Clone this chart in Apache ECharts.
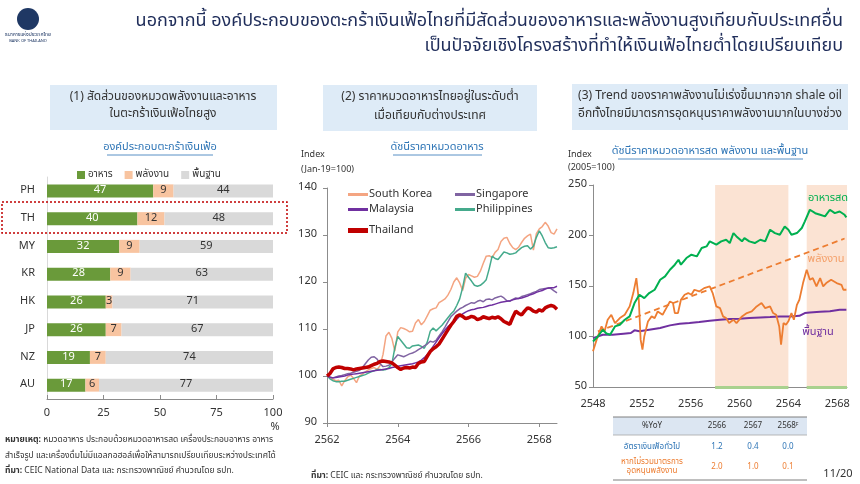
<!DOCTYPE html>
<html><head><meta charset="utf-8">
<script src="https://cdn.jsdelivr.net/npm/echarts@6/dist/echarts.min.js"></script>
<style>html,body{margin:0;padding:0;background:#fff;}#c{width:860px;height:484px;}</style>
</head><body><div id="c"></div>
<script>
const FONT = "'Noto Sans Thai','Noto Sans','DejaVu Sans',sans-serif";

// ---------- Chart 1: basket composition ----------
const countries = ['PH','TH','MY','KR','HK','JP','NZ','AU'];
const foodShare = [47,40,32,28,26,26,19,17];
const energyShare = [9,12,9,9,3,7,7,6];
const coreShare = [44,48,59,63,71,67,74,77];
const shareTicks = [0,25,50,75,100];

// ---------- Chart 2: food price index (Jan-19=100), monthly from Jan 2562 ----------
const startYear2 = 2562;
const yearTicks2 = [2562,2564,2566,2568];
const southKorea = [100.0,99.6,99.3,99.0,99.1,97.9,99.0,99.8,100.2,99.5,98.6,100.0,100.4,100.9,101.3,101.6,101.8,101.4,102.2,104.6,108.5,109.3,108.0,105.3,109.4,110.3,110.1,109.8,109.4,109.5,111.3,112.0,110.9,111.6,112.8,114.0,114.3,114.5,115.6,116.0,116.4,117.2,118.4,120.0,120.9,119.8,118.2,120.8,121.6,121.3,121.0,121.2,122.3,124.0,125.5,125.6,125.2,126.3,126.9,128.6,129.3,129.5,128.2,127.3,126.9,127.4,128.4,129.3,129.8,130.2,126.8,130.3,131.3,131.8,132.7,131.9,130.5,130.2,131.3];
const philippines = [100.0,99.4,99.0,98.8,98.8,98.9,98.9,99.1,99.3,99.5,99.7,99.9,100.1,100.3,100.6,100.9,101.1,101.4,101.4,101.3,101.4,101.8,102.6,106.0,108.4,107.6,106.8,106.0,105.9,106.4,106.5,106.6,106.3,105.9,107.2,109.5,110.2,109.6,110.2,110.8,111.6,112.4,113.2,113.8,115.0,116.4,118.8,121.9,121.0,120.2,119.3,119.1,119.3,119.8,120.5,122.8,125.5,125.0,124.8,125.6,126.4,126.2,125.9,126.0,126.2,126.8,127.3,127.6,127.7,127.0,127.6,129.5,130.9,129.8,128.4,127.3,127.2,127.3,127.5];
const singapore = [100.0,99.7,99.6,99.8,100.0,100.1,100.3,100.5,100.6,100.8,101.0,101.2,101.8,102.6,103.4,104.0,104.1,103.6,102.6,102.0,102.1,102.3,103.0,103.8,104.5,104.3,104.1,104.4,104.7,104.9,105.2,105.6,106.0,106.4,106.8,107.4,107.2,107.6,108.5,109.4,110.4,111.5,112.6,113.2,113.8,114.3,114.6,115.0,115.3,115.6,115.5,115.9,116.1,115.8,116.3,116.4,116.2,116.6,116.8,117.0,116.6,116.0,115.9,116.3,116.6,116.5,116.9,117.1,117.3,117.5,117.8,118.0,118.4,118.5,118.6,118.7,118.6,118.1,117.7];
const malaysia = [100.0,99.8,99.6,99.7,99.8,99.9,100.0,100.2,100.3,100.4,100.5,100.6,100.7,100.8,100.9,101.0,101.1,101.2,101.3,101.4,101.5,101.6,101.8,101.9,102.1,102.2,102.3,102.4,102.5,102.6,102.8,103.0,103.4,103.9,104.6,105.4,106.3,107.2,108.1,109.0,109.8,110.5,111.0,111.4,112.1,112.7,113.2,113.6,113.9,114.1,114.2,114.4,114.5,114.6,114.8,115.0,115.1,115.3,115.5,115.7,115.8,115.9,116.0,116.2,116.4,116.5,116.6,116.8,117.0,117.3,117.5,117.8,118.0,118.2,118.5,118.7,118.8,118.8,119.1];
const thailand = [100.0,100.5,101.5,101.8,101.9,101.8,101.6,101.6,101.5,101.3,101.5,101.6,101.7,101.8,101.9,102.2,102.5,102.7,103.1,103.2,103.1,103.0,102.8,102.3,101.8,101.4,101.7,101.8,101.7,101.9,101.8,102.7,103.0,103.1,104.2,105.2,105.8,106.2,106.8,107.8,108.8,109.8,110.8,111.6,112.7,113.0,112.7,112.2,112.4,112.7,112.5,112.0,112.2,112.6,112.4,112.2,112.5,112.3,112.6,112.2,111.6,111.3,111.0,112.5,113.8,113.3,113.0,113.8,114.5,114.3,113.8,113.6,114.1,113.8,114.5,114.8,115.0,114.8,114.2];

// ---------- Chart 3: fresh food, energy, core (2005=100), [year, index] ----------
const yearTicks3 = [2548,2552,2556,2560,2564,2568];
const freshFood = [[2548.0,95],[2548.4,100],[2548.8,106.7],[2549.1,103],[2549.4,101.8],[2549.8,110],[2550.2,111.6],[2550.6,116.6],[2551.0,119.9],[2551.4,133.1],[2551.8,141.3],[2552.2,138],[2552.6,143],[2553.05,146.3],[2553.5,156.2],[2553.9,159.5],[2554.3,166.1],[2554.7,171.1],[2555.0,176],[2555.2,171.1],[2555.65,177.7],[2556.06,181],[2556.5,179.3],[2556.9,187.6],[2557.3,189.2],[2557.56,194.2],[2558.1,190.9],[2558.5,194.2],[2558.9,195.8],[2559.2,192.5],[2559.5,202.4],[2559.75,199.1],[2560.2,194.2],[2560.4,197.4],[2560.8,194.2],[2561.25,192.5],[2561.7,195.8],[2562.1,194.2],[2562.5,205.7],[2562.9,202.4],[2563.3,200.8],[2563.7,209],[2564.0,205.7],[2564.25,200.8],[2564.7,202.4],[2565.1,207.4],[2565.35,214],[2565.76,225.5],[2566.2,222.1],[2566.6,220.5],[2567.0,218.9],[2567.4,225.5],[2567.8,222.1],[2568.2,223.8],[2568.6,220.5],[2568.75,218]];
const energy = [[2548.0,85.4],[2548.3,96.9],[2548.7,110],[2548.95,105.1],[2549.2,116.6],[2549.5,121.5],[2549.8,113.3],[2550.2,118.2],[2550.6,121.5],[2551.0,129.8],[2551.3,143],[2551.55,157.8],[2551.75,136.4],[2551.9,96.9],[2552.05,87],[2552.2,100.1],[2552.5,114.9],[2552.8,119.9],[2553.05,118.2],[2553.3,124.8],[2553.7,121.5],[2554.0,128.1],[2554.3,134.7],[2554.55,133.1],[2554.7,123.2],[2554.96,123.2],[2555.2,136.4],[2555.5,141.3],[2555.8,143],[2556.06,141.3],[2556.3,146.3],[2556.7,144.6],[2557.1,147.9],[2557.56,149.6],[2557.8,143],[2558.1,129.8],[2558.4,128.1],[2558.65,119.9],[2558.9,118.2],[2559.15,113.3],[2559.5,116.6],[2559.75,113.3],[2560.2,119.9],[2560.6,123.2],[2561.0,124.8],[2561.4,129.8],[2561.8,133.1],[2562.1,128.1],[2562.5,129.8],[2562.75,123.2],[2563.0,121.5],[2563.25,110],[2563.4,91.9],[2563.6,113.3],[2563.8,111.6],[2564.0,115],[2564.25,123.2],[2564.45,116.6],[2564.7,131.4],[2564.9,136.4],[2565.2,152.9],[2565.5,166.1],[2565.76,156.2],[2566.0,157.8],[2566.3,149.6],[2566.6,157.8],[2566.85,149.6],[2567.1,152.9],[2567.5,156.2],[2567.95,152.9],[2568.35,151.2],[2568.5,146.3],[2568.75,146.3]];
const energyTrend = [[2548.4,105],[2568.6,197]];
const core = [[2548.0,98.4],[2548.8,101.8],[2549.6,101.8],[2550.5,102.8],[2551.1,103.4],[2551.4,106.1],[2551.8,105.1],[2552.6,106.7],[2553.5,108.4],[2554.3,111],[2555.1,112.7],[2555.9,113.3],[2556.7,114.3],[2557.56,115.7],[2558.4,116.6],[2559.2,117.3],[2560.0,117.6],[2560.8,118.2],[2561.7,118.9],[2562.5,119.2],[2563.3,119.9],[2564.1,119.9],[2564.9,120.5],[2565.35,123.2],[2565.76,123.8],[2566.6,124.5],[2567.4,125.1],[2568.2,126.5],[2568.75,126.5]];
const shadePeriods = [[2558,2564],[2565.5,2568.8]];

// ---------- Table ----------
const tableYears = ['2566','2567','2568'];
const headlineInfl = ['1.2','0.4','0.0'];
const exSubsidyInfl = ['2.0','1.0','0.1'];

const chart = echarts.init(document.getElementById('c'), null, {renderer:'canvas'});
const axisGray = '#8c8c8c';
const txt = '#333';

const monthly = arr => arr.map((v,i)=>[startYear2 + i/12, v]);

function T(x,y,text,o){ return {type:'text',x:x,y:y,z:100,style:Object.assign({text:text,font:'11px '+FONT,fill:txt,textAlign:'left',textVerticalAlign:'middle'},o||{})}; }

const graphics = [
  // logo
  {type:'circle',shape:{cx:28,cy:19,r:11},style:{fill:'#1F3864'}},
  T(28,35,'ธนาคารแห่งประเทศไทย',{font:'5px '+FONT,textAlign:'center',fill:'#1F3864'}),
  T(28,41,'BANK OF THAILAND',{font:'4px '+FONT,textAlign:'center',fill:'#1F3864'}),
  // title
  T(843,22,'นอกจากนี้ องค์ประกอบของตะกร้าเงินเฟ้อไทยที่มีสัดส่วนของอาหารและพลังงานสูงเทียบกับประเทศอื่น',{font:'18px '+FONT,textAlign:'right',fill:'#1F2D5A'}),
  T(843,47,'เป็นปัจจัยเชิงโครงสร้างที่ทำให้เงินเฟ้อไทยต่ำโดยเปรียบเทียบ',{font:'18px '+FONT,textAlign:'right',fill:'#1F2D5A'}),
  // header boxes
  {type:'rect',shape:{x:50,y:85,width:227,height:45},style:{fill:'#DEEBF7'}},
  T(163,98,'(1) สัดส่วนของหมวดพลังงานและอาหาร',{font:'12px '+FONT,textAlign:'center'}),
  T(163,115,'ในตะกร้าเงินเฟ้อไทยสูง',{font:'12px '+FONT,textAlign:'center'}),
  {type:'rect',shape:{x:323,y:85,width:214,height:46},style:{fill:'#DEEBF7'}},
  T(430,98,'(2) ราคาหมวดอาหารไทยอยู่ในระดับต่ำ',{font:'12px '+FONT,textAlign:'center'}),
  T(430,117,'เมื่อเทียบกับต่างประเทศ',{font:'12px '+FONT,textAlign:'center'}),
  {type:'rect',shape:{x:572,y:84,width:276,height:46},style:{fill:'#DEEBF7'}},
  T(710,97,'(3) Trend ของราคาพลังงานไม่เร่งขึ้นมากจาก shale oil',{font:'12px '+FONT,textAlign:'center'}),
  T(710,115,'อีกทั้งไทยมีมาตรการอุดหนุนราคาพลังงานมากในบางช่วง',{font:'12px '+FONT,textAlign:'center'}),
  // chart subtitles (underlined)
  T(160,148,'องค์ประกอบตะกร้าเงินเฟ้อ',{font:'11px '+FONT,textAlign:'center',fill:'#2E75B6'}),
  {type:'line',shape:{x1:107,y1:155,x2:213,y2:155},style:{stroke:'#2E75B6',lineWidth:0.8}},
  T(437,148,'ดัชนีราคาหมวดอาหาร',{font:'11px '+FONT,textAlign:'center',fill:'#2E75B6'}),
  {type:'line',shape:{x1:393,y1:155,x2:482,y2:155},style:{stroke:'#2E75B6',lineWidth:0.8}},
  T(710,152,'ดัชนีราคาหมวดอาหารสด พลังงาน และพื้นฐาน',{font:'11px '+FONT,textAlign:'center',fill:'#2E75B6'}),
  {type:'line',shape:{x1:618,y1:159,x2:803,y2:159},style:{stroke:'#2E75B6',lineWidth:0.8}},
  // axis captions
  T(301,155,'Index',{font:'9px '+FONT}),
  T(301,170,'(Jan-19=100)',{font:'9px '+FONT}),
  T(568,155,'Index',{font:'9px '+FONT}),
  T(568,168,'(2005=100)',{font:'9px '+FONT}),
  T(275,428,'%',{font:'11px '+FONT,textAlign:'center'}),
  // TH highlight
  {type:'rect',z:100,shape:{x:2,y:202,width:285,height:31},style:{fill:'none',stroke:'#C00000',lineWidth:1.5,lineDash:[2,2]}},
  // notes chart 1
  {type:'text',x:5,y:440,z:100,style:{text:'{b|หมายเหตุ:} หมวดอาหาร ประกอบด้วยหมวดอาหารสด เครื่องประกอบอาหาร อาหาร',font:'8.5px '+FONT,fill:txt,textVerticalAlign:'middle',rich:{b:{fontWeight:'bold',fontSize:8.5,fontFamily:FONT}}}},
  T(5,456,'สำเร็จรูป และเครื่องดื่มไม่มีแอลกอฮอล์เพื่อให้สามารถเปรียบเทียบระหว่างประเทศได้',{font:'8.5px '+FONT}),
  {type:'text',x:5,y:471,z:100,style:{text:'{b|ที่มา:} CEIC National Data และ กระทรวงพาณิชย์ คำนวณโดย ธปท.',font:'8.5px '+FONT,fill:txt,textVerticalAlign:'middle',rich:{b:{fontWeight:'bold',fontSize:8.5,fontFamily:FONT}}}},
  {type:'text',x:311,y:476,z:100,style:{text:'{b|ที่มา:} CEIC และ กระทรวงพาณิชย์ คำนวณโดย ธปท.',font:'8.5px '+FONT,fill:txt,textVerticalAlign:'middle',rich:{b:{fontWeight:'bold',fontSize:8.5,fontFamily:FONT}}}},
  // chart 3 labels
  T(828,199,'อาหารสด',{font:'11px '+FONT,textAlign:'center',fill:'#00B050'}),
  T(826,260,'พลังงาน',{font:'11px '+FONT,textAlign:'center',fill:'#F4A06A'}),
  T(818,333,'พื้นฐาน',{font:'11px '+FONT,textAlign:'center',fill:'#7030A0'}),
  // table
  {type:'rect',shape:{x:613,y:417,width:194,height:18},style:{fill:'#DCE6F2'}},
  {type:'line',shape:{x1:613,y1:417,x2:807,y2:417},style:{stroke:'#7f7f7f',lineWidth:1}},
  {type:'line',shape:{x1:613,y1:435,x2:807,y2:435},style:{stroke:'#a6a6a6',lineWidth:0.8}},
  {type:'line',shape:{x1:613,y1:480,x2:807,y2:480},style:{stroke:'#7f7f7f',lineWidth:1}},
  T(652,426,'%YoY',{font:'8px '+FONT,textAlign:'center'}),
  T(652,447,'อัตราเงินเฟ้อทั่วไป',{font:'8px '+FONT,textAlign:'center',fill:'#2E75B6'}),
  T(652,462,'หากไม่รวมมาตรการ',{font:'8px '+FONT,textAlign:'center',fill:'#ED7D31'}),
  T(652,471,'อุดหนุนพลังงาน',{font:'8px '+FONT,textAlign:'center',fill:'#ED7D31'}),
  T(838,475,'11/20',{font:'11px '+FONT,textAlign:'center'})
];
const colX = [717,753,788];
tableYears.forEach((y,i)=>{
  graphics.push({type:'text',x:colX[i],y:426,z:100,style:{text: i===2 ? y+'{s|F}' : y,font:'8px '+FONT,fill:txt,textAlign:'center',textVerticalAlign:'middle',rich:{s:{fontSize:5,verticalAlign:'top',fontFamily:FONT,fill:txt}}}});
  graphics.push(T(colX[i],447,headlineInfl[i],{font:'8px '+FONT,textAlign:'center',fill:'#2E75B6'}));
  graphics.push(T(colX[i],467,exSubsidyInfl[i],{font:'8px '+FONT,textAlign:'center',fill:'#ED7D31'}));
});

const option = {
  animation:false,
  textStyle:{fontFamily:FONT},
  graphic: graphics,
  legend:[
    {data:['อาหาร','พลังงาน','พื้นฐาน'],left:72,top:165,itemWidth:8,itemHeight:8,itemGap:12,icon:'rect',textStyle:{fontSize:10,color:txt,padding:[0,0,0,-2]}},
    {data:['South Korea','Malaysia'],orient:'vertical',left:343,top:184,itemWidth:20,itemHeight:3,itemGap:4,icon:'rect',textStyle:{fontSize:11,color:txt,padding:[0,0,0,-4]}},
    {data:['Thailand'],orient:'vertical',left:343,top:220,itemWidth:20,itemHeight:5,icon:'rect',textStyle:{fontSize:11,color:txt,padding:[0,0,0,-4]}},
    {data:['Singapore','Philippines'],orient:'vertical',left:450,top:184,itemWidth:20,itemHeight:3,itemGap:4,icon:'rect',textStyle:{fontSize:11,color:txt,padding:[0,0,0,-4]}}
  ],
  grid:[
    {left:47,top:177,width:226,height:222},
    {left:327,top:188,width:230,height:235},
    {left:593,top:185,width:254,height:202}
  ],
  xAxis:[
    {gridIndex:0,type:'value',min:shareTicks[0],max:shareTicks[shareTicks.length-1],interval:25,
     axisLine:{show:true,lineStyle:{color:axisGray}},axisTick:{show:true,inside:true,length:4,lineStyle:{color:axisGray}},
     splitLine:{show:false},axisLabel:{fontSize:11,color:txt,margin:9}},
    {gridIndex:1,type:'value',min:yearTicks2[0],max:startYear2+(thailand.length-1)/12,interval:2,
     axisLine:{show:true,lineStyle:{color:axisGray}},axisTick:{show:true,length:4,lineStyle:{color:axisGray}},
     splitLine:{show:false},axisLabel:{fontSize:11,color:txt,margin:12,showMaxLabel:false,formatter:v=>String(Math.round(v))}},
    {gridIndex:2,type:'value',min:yearTicks3[0],max:shadePeriods[1][1],interval:4,
     axisLine:{show:true,lineStyle:{color:axisGray}},axisTick:{show:false},
     splitLine:{show:false},axisLabel:{fontSize:11,color:txt,margin:12,showMaxLabel:false,formatter:v=>String(Math.round(v))}}
  ],
  yAxis:[
    {gridIndex:0,type:'category',data:countries,inverse:true,axisLine:{show:true,lineStyle:{color:'#d9d9d9'}},axisTick:{show:false},
     axisLabel:{fontSize:11,color:txt,margin:12}},
    {gridIndex:1,type:'value',min:90,max:140,interval:10,axisLine:{show:true,lineStyle:{color:axisGray}},
     axisTick:{show:true,length:4,lineStyle:{color:axisGray}},splitLine:{show:false},axisLabel:{fontSize:11,color:txt,margin:10}},
    {gridIndex:2,type:'value',min:50,max:250,interval:50,axisLine:{show:true,lineStyle:{color:axisGray}},
     axisTick:{show:true,length:4,lineStyle:{color:axisGray}},splitLine:{show:false},axisLabel:{fontSize:11,color:txt,margin:6}}
  ],
  series:[
    {name:'อาหาร',type:'bar',stack:'s',xAxisIndex:0,yAxisIndex:0,data:foodShare,barWidth:13,itemStyle:{color:'#6A9A3A'},
     label:{show:true,position:'inside',color:'#fff',fontSize:11}},
    {name:'พลังงาน',type:'bar',stack:'s',xAxisIndex:0,yAxisIndex:0,data:energyShare,barWidth:13,itemStyle:{color:'#F8C4A0'},
     label:{show:true,position:'inside',color:txt,fontSize:11}},
    {name:'พื้นฐาน',type:'bar',stack:'s',xAxisIndex:0,yAxisIndex:0,data:coreShare,barWidth:13,itemStyle:{color:'#D9D9D9'},
     label:{show:true,position:'inside',color:txt,fontSize:11}},

    {name:'South Korea',type:'line',xAxisIndex:1,yAxisIndex:1,data:monthly(southKorea),showSymbol:false,lineStyle:{width:1.5,color:'#F4A582'},itemStyle:{color:'#F4A582'}},
    {name:'Philippines',type:'line',xAxisIndex:1,yAxisIndex:1,data:monthly(philippines),showSymbol:false,lineStyle:{width:1.5,color:'#45AA8C'},itemStyle:{color:'#45AA8C'}},
    {name:'Singapore',type:'line',xAxisIndex:1,yAxisIndex:1,data:monthly(singapore),showSymbol:false,lineStyle:{width:1.5,color:'#8064A2'},itemStyle:{color:'#8064A2'}},
    {name:'Malaysia',type:'line',xAxisIndex:1,yAxisIndex:1,data:monthly(malaysia),showSymbol:false,lineStyle:{width:1.5,color:'#7030A0'},itemStyle:{color:'#7030A0'}},
    {name:'Thailand',type:'line',xAxisIndex:1,yAxisIndex:1,data:monthly(thailand),showSymbol:false,lineStyle:{width:3.5,color:'#C00000'},itemStyle:{color:'#C00000'}},

    {name:'shade',type:'line',xAxisIndex:2,yAxisIndex:2,data:[],z:1,
     markArea:{silent:true,itemStyle:{color:'#FBE3D3'},data:shadePeriods.map(p=>[{xAxis:p[0]},{xAxis:p[1]}])},
     markLine:{silent:true,symbol:'none',label:{show:false},lineStyle:{color:'#A9D18E',width:3,type:'solid'},
       data:shadePeriods.map(p=>[{coord:[p[0],50]},{coord:[p[1],50]}])}},
    {name:'พื้นฐานidx',type:'line',xAxisIndex:2,yAxisIndex:2,data:core,showSymbol:false,z:3,lineStyle:{width:2,color:'#7030A0'}},
    {name:'trend',type:'line',xAxisIndex:2,yAxisIndex:2,data:energyTrend,showSymbol:false,z:3,lineStyle:{width:1.8,color:'#ED7D31',type:[6,4]}},
    {name:'พลังงานidx',type:'line',xAxisIndex:2,yAxisIndex:2,data:energy,showSymbol:false,z:3,lineStyle:{width:1.8,color:'#ED7D31'}},
    {name:'อาหารสดidx',type:'line',xAxisIndex:2,yAxisIndex:2,data:freshFood,showSymbol:false,z:3,lineStyle:{width:2,color:'#00B050'}}
  ]
};
chart.setOption(option);
</script></body></html>
